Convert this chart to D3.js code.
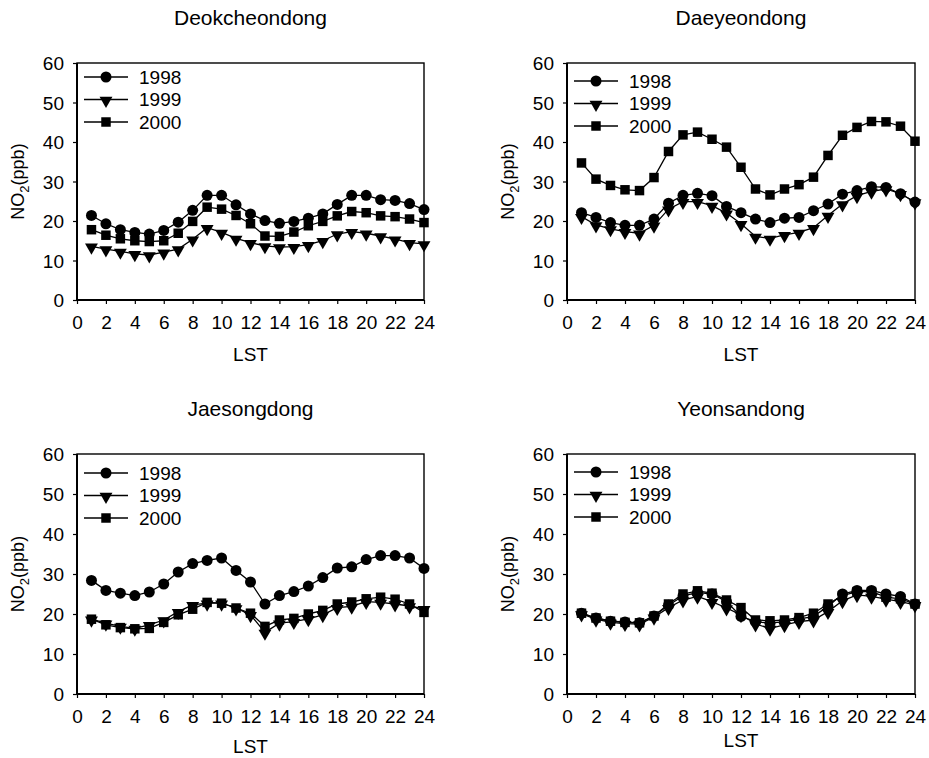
<!DOCTYPE html>
<html>
<head>
<meta charset="utf-8">
<script src="https://cdn.jsdelivr.net/npm/d3@7"></script>
<style>
  body { margin: 0; background: #fff; }
  svg { display: block; font-family: Arial, "Liberation Sans", sans-serif; }
</style>
</head>
<body>
<div id="chart"></div>
<script>
// hours of the day (LST)
const hours = [1, 2, 3, 4, 5, 6, 7, 8, 9, 10, 11, 12, 13, 14, 15, 16, 17, 18, 19, 20, 21, 22, 23, 24];
const years = ["1998", "1999", "2000"];
const xTicks = [0, 2, 4, 6, 8, 10, 12, 14, 16, 18, 20, 22, 24];
const yTicks = [0, 10, 20, 30, 40, 50, 60];
const stations = ["Deokcheondong", "Daeyeondong", "Jaesongdong", "Yeonsandong"];

// NO2 (ppb)
const deok1998 = [21.4, 19.3, 17.8, 17.1, 16.7, 17.6, 19.7, 22.7, 26.5, 26.5, 24.1, 21.8, 20.1, 19.4, 19.9, 20.7, 21.8, 24.2, 26.5, 26.5, 25.4, 25.2, 24.4, 22.9];
const deok1999 = [13.6, 12.9, 12.3, 11.7, 11.4, 12.1, 12.9, 15.4, 18.3, 17.1, 15.6, 14.5, 13.7, 13.4, 13.5, 14.0, 15.0, 16.7, 17.3, 16.9, 16.2, 15.4, 14.5, 14.2];
const deok2000 = [17.8, 16.4, 15.5, 15.0, 14.8, 15.0, 16.9, 19.9, 23.5, 23.0, 21.4, 19.3, 16.2, 16.1, 17.2, 18.8, 19.9, 21.3, 22.4, 22.1, 21.3, 21.1, 20.5, 19.6];

const daey1998 = [22.1, 20.9, 19.6, 18.9, 18.9, 20.5, 24.5, 26.5, 27.0, 26.4, 23.7, 22.1, 20.5, 19.6, 20.7, 20.9, 22.6, 24.3, 26.8, 27.7, 28.7, 28.5, 26.9, 24.8];
const daey1999 = [21.1, 19.0, 18.0, 17.3, 16.9, 18.9, 23.0, 24.9, 24.9, 23.9, 22.0, 19.3, 16.1, 15.6, 16.5, 17.1, 18.3, 21.4, 24.3, 26.4, 27.5, 28.1, 26.9, 24.8];
const daey2000 = [34.7, 30.6, 29.0, 27.9, 27.7, 31.0, 37.6, 41.8, 42.5, 40.7, 38.7, 33.6, 28.1, 26.6, 28.1, 29.2, 31.1, 36.6, 41.7, 43.7, 45.2, 45.1, 44.0, 40.2];

const jaes1998 = [28.4, 25.9, 25.2, 24.6, 25.5, 27.5, 30.5, 32.6, 33.4, 34.0, 30.9, 28.0, 22.5, 24.6, 25.6, 27.0, 29.1, 31.5, 31.8, 33.6, 34.6, 34.6, 34.0, 31.4];
const jaes1999 = [18.7, 17.7, 16.9, 16.4, 17.3, 18.5, 20.6, 22.3, 22.7, 22.7, 21.5, 19.8, 15.4, 17.7, 18.1, 18.8, 19.8, 21.6, 21.9, 23.1, 22.9, 22.5, 22.0, 21.3];
const jaes2000 = [18.7, 17.3, 16.6, 16.3, 16.4, 17.9, 19.8, 21.2, 22.9, 22.7, 21.5, 20.2, 16.9, 18.5, 18.9, 20.0, 20.9, 22.5, 23.0, 23.8, 24.2, 23.7, 22.5, 20.4];

const yeon1998 = [20.2, 19.0, 18.2, 18.0, 17.8, 19.5, 22.2, 24.5, 25.4, 25.0, 23.1, 19.4, 18.1, 17.7, 18.1, 18.7, 19.4, 21.9, 25.0, 25.9, 25.9, 25.0, 24.4, 22.5];
const yeon1999 = [20.0, 18.7, 17.9, 17.6, 17.5, 19.2, 21.6, 23.5, 24.4, 23.1, 21.5, 19.8, 17.5, 16.4, 17.3, 18.1, 18.5, 20.6, 23.3, 24.8, 24.4, 23.7, 23.1, 22.3];
const yeon2000 = [20.2, 19.0, 18.2, 17.9, 17.8, 19.5, 22.5, 25.0, 25.8, 25.2, 23.5, 21.6, 18.5, 18.3, 18.5, 19.1, 20.2, 22.5, 24.6, 25.6, 25.6, 24.2, 23.8, 22.5];

const stationData = [
	[deok1998, deok1999, deok2000],
	[daey1998, daey1999, daey2000],
	[jaes1998, jaes1999, jaes2000],
	[yeon1998, yeon1999, yeon2000],
];

// panel placement (plot area) in page pixels
const panels = [
	{ left: 77, top: 63, right: 424, bottom: 300, legendTop: 14, lstOff: 61 },
	{ left: 567, top: 63, right: 915, bottom: 300, legendTop: 18, lstOff: 61 },
	{ left: 77, top: 454, right: 424, bottom: 694, legendTop: 19, lstOff: 59 },
	{ left: 567, top: 454, right: 915, bottom: 694, legendTop: 18, lstOff: 53 },
];

const symbols = [d3.symbolCircle, d3.symbolTriangle, d3.symbolSquare];
const symbolSizes = [95, 72, 90];

const svg = d3
	.select("#chart")
	.append("svg")
	.attr("width", 929)
	.attr("height", 758);

function marker(g, i, x, y) {
	// the triangle points down in the figure
	const rot = i === 1 ? 180 : 0;
	const dy = i === 1 ? 1 : 0;
	g.append("path")
		.attr("d", d3.symbol(symbols[i], symbolSizes[i])())
		.attr("transform", `translate(${x},${y + dy}) rotate(${rot})`)
		.attr("fill", "#000");
}

panels.forEach((p, k) => {
	const g = svg.append("g");
	const x = d3.scaleLinear().domain([0, 24]).range([p.left, p.right]);
	const y = d3.scaleLinear().domain([0, 60]).range([p.bottom, p.top]);

	// title
	g.append("text")
		.attr("x", (p.left + p.right) / 2)
		.attr("y", p.top - 38)
		.attr("text-anchor", "middle")
		.attr("font-size", 21)
		.text(stations[k]);

	// axes
	const xAxis = g
		.append("g")
		.attr("transform", `translate(0,${p.bottom})`)
		.call(d3.axisBottom(x).tickValues(xTicks).tickSize(4).tickSizeOuter(0).tickPadding(12));
	const yAxis = g
		.append("g")
		.attr("transform", `translate(${p.left},0)`)
		.call(d3.axisLeft(y).tickValues(yTicks).tickSize(4).tickSizeOuter(0).tickPadding(9));
	[xAxis, yAxis].forEach((a) => {
		a.select(".domain").remove();
		a.selectAll("line").attr("stroke", "#000").attr("stroke-width", 1.2);
		a.selectAll("text")
			.attr("font-size", 19)
			.attr("fill", "#000")
			.attr("font-family", "Arial, 'Liberation Sans', sans-serif");
	});
	yAxis.selectAll("text").attr("dy", "0.36em");

	// frame
	g.append("rect")
		.attr("x", p.left)
		.attr("y", p.top)
		.attr("width", p.right - p.left)
		.attr("height", p.bottom - p.top)
		.attr("fill", "none")
		.attr("stroke", "#000")
		.attr("stroke-width", 1.4);
	g.append("path")
		.attr("d", `M${p.left},${p.top}V${p.bottom}H${p.right}`)
		.attr("fill", "none")
		.attr("stroke", "#000")
		.attr("stroke-width", 2);

	// axis titles
	g.append("text")
		.attr("x", (p.left + p.right) / 2)
		.attr("y", p.bottom + p.lstOff)
		.attr("text-anchor", "middle")
		.attr("font-size", 19)
		.text("LST");
	const yl = g
		.append("text")
		.attr("transform", `translate(${p.left - 53},${(p.top + p.bottom) / 2}) rotate(-90)`)
		.attr("text-anchor", "middle")
		.attr("font-size", 18);
	yl.append("tspan").text("NO");
	yl.append("tspan").attr("font-size", 13).attr("dy", 5).text("2");
	yl.append("tspan").attr("dy", -5).text("(ppb)");

	// series
	const line = d3
		.line()
		.x((d, i) => x(hours[i]))
		.y((d) => y(d));
	stationData[k].forEach((vals, i) => {
		g.append("path")
			.attr("d", line(vals))
			.attr("fill", "none")
			.attr("stroke", "#000")
			.attr("stroke-width", 1.3);
		vals.forEach((v, j) => marker(g, i, x(hours[j]), y(v)));
	});

	// legend
	years.forEach((yr, i) => {
		const ly = p.top + p.legendTop + i * 22.5;
		g.append("line")
			.attr("x1", p.left + 7)
			.attr("x2", p.left + 51)
			.attr("y1", ly)
			.attr("y2", ly)
			.attr("stroke", "#000")
			.attr("stroke-width", 1.3);
		marker(g, i, p.left + 29, ly);
		g.append("text")
			.attr("x", p.left + 62)
			.attr("y", ly)
			.attr("dy", "0.36em")
			.attr("font-size", 19)
			.text(yr);
	});
});
</script>
</body>
</html>
